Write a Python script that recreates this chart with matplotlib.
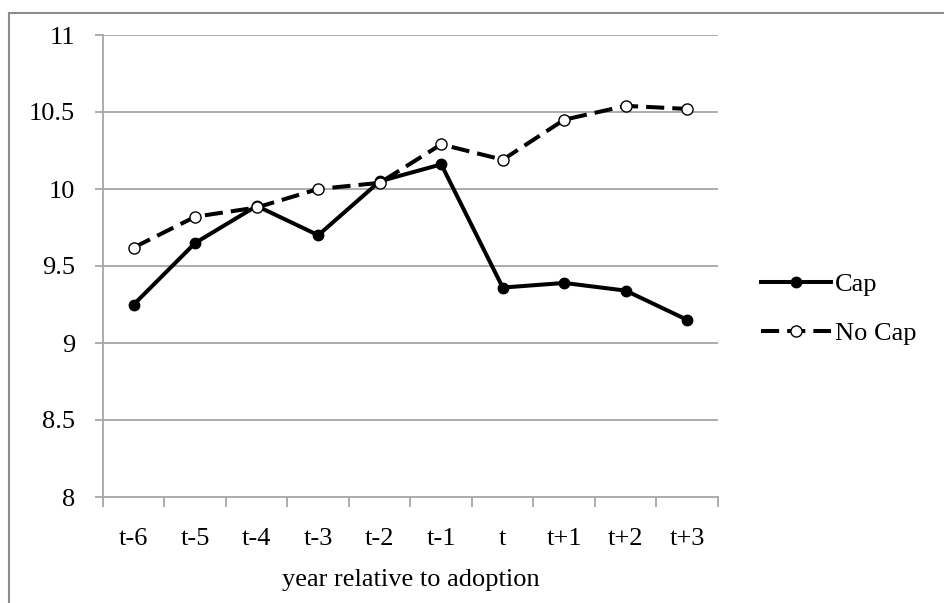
import matplotlib
matplotlib.use("Agg")
import matplotlib.pyplot as plt
from matplotlib.lines import Line2D

categories = ["t-6", "t-5", "t-4", "t-3", "t-2", "t-1", "t", "t+1", "t+2", "t+3"]
cap = [9.25, 9.65, 9.89, 9.70, 10.05, 10.16, 9.36, 9.39, 9.34, 9.15]
no_cap = [9.62, 9.82, 9.88, 10.00, 10.04, 10.29, 10.19, 10.45, 10.54, 10.52]
yticks = [8, 8.5, 9, 9.5, 10, 10.5, 11]
ytick_labels = ["8", "8.5", "9", "9.5", "10", "10.5", "11"]

plt.rcParams['font.family'] = ['Liberation Serif', 'DejaVu Serif']

W, H = 945, 603
fs = 19
fig = plt.figure(figsize=(W / 100, H / 100), dpi=100)
ax = fig.add_axes([103 / W, 1 - 497 / H, (718 - 103) / W, (497 - 35) / H])

x = list(range(len(categories)))
grid_col = "#a6a6a6"

for v in yticks[1:]:
    ax.axhline(v, color=grid_col, lw=1.3, zorder=1)

l_cap, = ax.plot(x, cap, color="black", lw=2.9, marker="o", ms=7.5,
                 markerfacecolor="black", markeredgecolor="black", zorder=3)
l_nocap, = ax.plot(x, no_cap, color="black", lw=2.9, ls=(0, (4.5, 2)), marker="o", ms=8,
                   markerfacecolor="white", markeredgecolor="black", markeredgewidth=1.0,
                   zorder=3)

ax.set_xlim(-0.5, len(categories) - 0.5)
ax.set_ylim(8, 11)
ax.set_yticks(yticks)
ax.set_yticklabels(ytick_labels, fontsize=fs)
ax.set_xticks([i - 0.5 for i in range(len(categories) + 1)])
ax.set_xticklabels([])
ax.set_xticks(x, minor=True)
ax.set_xticklabels(categories, minor=True, fontsize=fs)
ax.tick_params(axis="x", which="major", length=7, color=grid_col, width=1.3, direction="out")
ax.tick_params(axis="x", which="minor", length=0, pad=22)
ax.tick_params(axis="y", length=6, color=grid_col, width=1.3, pad=14)

for s in ["top", "right"]:
    ax.spines[s].set_visible(False)
for s in ["left", "bottom"]:
    ax.spines[s].set_color(grid_col)
    ax.spines[s].set_linewidth(1.3)

ax.set_xlabel("year relative to adoption", fontsize=fs, labelpad=14)

leg = fig.legend(handles=[l_cap, l_nocap], labels=["Cap", "No Cap"],
                 loc="center left", bbox_to_anchor=(761 / W, 1 - 309 / H),
                 frameon=False, fontsize=fs, handlelength=2.65, handletextpad=0.15,
                 labelspacing=0.95, borderaxespad=0, borderpad=0)

# outer chart frame
frame_col = "#8c8c8c"
fig.add_artist(Line2D([9 / W, 9 / W], [0, 1 - 13 / H], color=frame_col, lw=1.5,
                      transform=fig.transFigure))
fig.add_artist(Line2D([9 / W, 1], [1 - 13 / H, 1 - 13 / H], color=frame_col, lw=1.5,
                      transform=fig.transFigure))

fig.savefig("out.png", dpi=100)
